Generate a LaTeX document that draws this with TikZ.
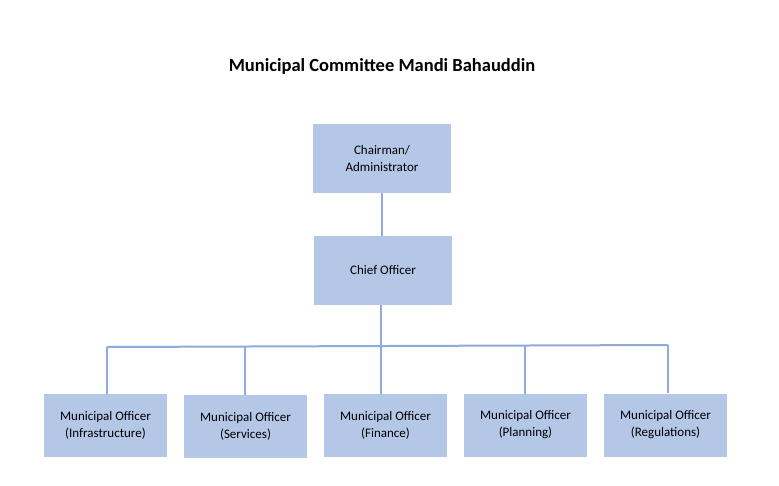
\documentclass[tikz,border=0pt]{standalone}
\usepackage{fontspec}
\setmainfont{Carlito}
\definecolor{boxfill}{HTML}{B4C7E7}
\definecolor{linecol}{HTML}{8FAADC}
\begin{document}
\begin{tikzpicture}[x=1pt,y=-1pt,
  orgbox/.style={fill=boxfill,draw=none,minimum width=#1,inner sep=0pt,align=center,font=\fontsize{13}{17}\selectfont},
  conn/.style={draw=linecol,line width=2pt}]
\useasboundingbox[fill=white] (0,0) rectangle (779,485);
\node[font=\bfseries\fontsize{18.5}{22}\selectfont] (title) at (382,66) {Municipal Committee Mandi Bahauddin};
\node[orgbox=138,minimum height=69] (chair) at (382,158.5) {Chairman/\\Administrator};
\node[orgbox=138,minimum height=69] (chief) at (383,270.5) {Chief Officer};
\node[orgbox=123,minimum height=63] (m1) at (105.5,425.5) {Municipal Officer\\(Infrastructure)};
\node[orgbox=123,minimum height=63] (m2) at (245.5,426.5) {Municipal Officer\\(Services)};
\node[orgbox=123,minimum height=63] (m3) at (385.5,425.5) {Municipal Officer\\(Finance)};
\node[orgbox=123,minimum height=63] (m4) at (525.5,425) {Municipal Officer\\(Planning)};
\node[orgbox=123,minimum height=63] (m5) at (665.5,425) {Municipal Officer\\(Regulations)};
\coordinate (bl) at (107,347);
\coordinate (br) at (668,345);
\draw[conn] (chair.south) -- (chief.north -| chair.south);
\draw[conn] (bl) -- (br);
\draw[conn] (381,305) -- (381,394);
\draw[conn] (bl) -- (m1.north -| bl);
\draw[conn] (245,346.5) -- (245,395);
\draw[conn] (525,345.5) -- (525,393.5);
\draw[conn] (br) -- (m5.north -| br);
\end{tikzpicture}
\end{document}
